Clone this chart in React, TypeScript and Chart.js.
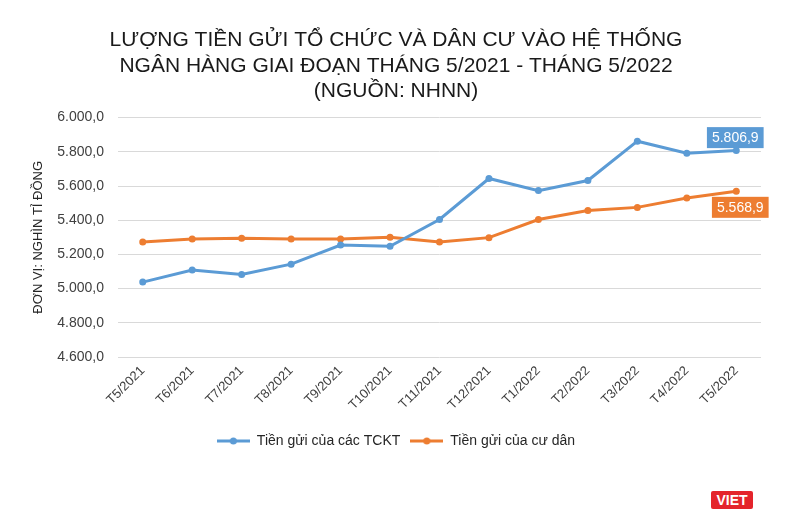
import React, { useEffect, useRef } from 'react';
import { Chart, registerables } from 'chart.js';

Chart.register(...registerables);

const months = [
  'T5/2021', 'T6/2021', 'T7/2021', 'T8/2021', 'T9/2021', 'T10/2021', 'T11/2021',
  'T12/2021', 'T1/2022', 'T2/2022', 'T3/2022', 'T4/2022', 'T5/2022',
];
// Deposits of economic organisations (TCKT), thousand billion dong
const tcktValues = [5038, 5109, 5082, 5143, 5255, 5247, 5404, 5644, 5573, 5632, 5862, 5792, 5806.9];
// Deposits of residents
const danCuValues = [5272, 5290, 5294, 5290, 5290, 5300, 5272, 5298, 5404, 5457, 5475, 5530, 5568.9];
const seriesNames = ['Tiền gửi của các TCKT', 'Tiền gửi của cư dân'];
const titleLines = [
  'LƯỢNG TIỀN GỬI TỔ CHỨC VÀ DÂN CƯ VÀO HỆ THỐNG',
  'NGÂN HÀNG GIAI ĐOẠN THÁNG 5/2021 - THÁNG 5/2022',
  '(NGUỒN: NHNN)',
];

const BLUE = '#5b9bd5';
const ORANGE = '#ed7d31';
const FONT = "'Liberation Sans', Arial, sans-serif";

// 5806.9 -> "5.806,9"
function fmt(v: number) {
  const [i, d] = v.toFixed(1).split('.');
  return i.replace(/\B(?=(\d{3})+(?!\d))/g, '.') + ',' + d;
}

function legendIcon(color: string) {
  const c = document.createElement('canvas');
  c.width = 33;
  c.height = 10;
  const ctx = c.getContext('2d')!;
  ctx.strokeStyle = color;
  ctx.lineWidth = 3;
  ctx.beginPath();
  ctx.moveTo(0, 5);
  ctx.lineTo(33, 5);
  ctx.stroke();
  ctx.fillStyle = color;
  ctx.beginPath();
  ctx.arc(16.5, 5, 3.5, 0, Math.PI * 2);
  ctx.fill();
  return c;
}

// boxes with the last value of each line
const lastLabels = {
  id: 'lastLabels',
  afterDatasetsDraw(chart: any) {
    const ctx = chart.ctx;
    const setups = [
      { ds: 0, color: BLUE, dx: -1, dy: -13 },
      { ds: 1, color: ORANGE, dx: 4, dy: 16 },
    ];
    ctx.save();
    ctx.font = `14px ${FONT}`;
    ctx.textAlign = 'center';
    ctx.textBaseline = 'middle';
    setups.forEach((s) => {
      const meta = chart.getDatasetMeta(s.ds);
      const pt = meta.data[meta.data.length - 1];
      const vals = chart.data.datasets[s.ds].data;
      const text = fmt(vals[vals.length - 1]);
      const w = ctx.measureText(text).width + 10;
      const h = 21;
      const cx = pt.x + s.dx;
      const cy = pt.y + s.dy;
      ctx.fillStyle = s.color;
      ctx.fillRect(cx - w / 2, cy - h / 2, w, h);
      ctx.fillStyle = '#ffffff';
      ctx.fillText(text, cx, cy + 1);
    });
    ctx.restore();
  },
};

function App() {
  const canvasRef = useRef<HTMLCanvasElement | null>(null);

  useEffect(() => {
    if (!canvasRef.current) return;
    const icons = [legendIcon(BLUE), legendIcon(ORANGE)];
    const chart = new Chart(canvasRef.current, {
      type: 'line',
      data: {
        labels: months,
        datasets: [
          {
            label: seriesNames[0],
            data: tcktValues,
            borderColor: BLUE,
            backgroundColor: BLUE,
            borderWidth: 3,
            pointRadius: 3.5,
            pointBorderWidth: 0,
          },
          {
            label: seriesNames[1],
            data: danCuValues,
            borderColor: ORANGE,
            backgroundColor: ORANGE,
            borderWidth: 3,
            pointRadius: 3.5,
            pointBorderWidth: 0,
          },
        ],
      },
      options: {
        animation: false,
        responsive: false,
        layout: { padding: { left: 31, right: 49, bottom: 64, top: 0 } },
        plugins: {
          title: {
            display: true,
            text: titleLines,
            color: '#1a1a1a',
            font: { family: FONT, size: 21, weight: 'normal', lineHeight: 1.2 },
            padding: { top: 28, bottom: 14 },
          },
          legend: {
            position: 'bottom',
            labels: {
              color: '#262626',
              font: { family: FONT, size: 14 },
              usePointStyle: true,
              pointStyleWidth: 33,
              padding: 10,
              generateLabels: (c: any) =>
                Chart.defaults.plugins.legend.labels
                  .generateLabels(c)
                  .map((l: any, i: number) => ({ ...l, pointStyle: icons[i] })),
            },
          },
          tooltip: { enabled: false },
        },
        scales: {
          x: {
            offset: true,
            grid: { display: false },
            border: { display: false },
            ticks: {
              color: '#404040',
              font: { family: FONT, size: 13 },
              minRotation: 45,
              maxRotation: 45,
              padding: -2,
            },
            afterFit: (s: any) => {
              s.height = 67;
            },
          },
          y: {
            min: 4600,
            max: 6000,
            grid: { color: '#d9d9d9', lineWidth: 1, drawTicks: false },
            border: { display: false },
            ticks: {
              stepSize: 200,
              color: '#404040',
              font: { family: FONT, size: 14 },
              padding: 14,
              callback: (v: any) => fmt(Number(v)),
            },
            title: {
              display: true,
              text: 'ĐƠN VỊ: NGHÌN TỈ ĐỒNG',
              color: '#262626',
              font: { family: FONT, size: 13 },
              padding: 0,
            },
            afterFit: (s: any) => {
              s.width = 87;
            },
          },
        },
      },
      plugins: [lastLabels],
    });
    return () => {
      chart.destroy();
    };
  }, []);

  return (
    <div style={{ position: 'absolute', left: 0, top: 0, width: 810, height: 522, background: '#fff' }}>
      <canvas ref={canvasRef} width={810} height={522}></canvas>
      {/* VIET watermark */}
      <div
        style={{
          position: 'absolute',
          left: 711,
          top: 491,
          width: 42,
          height: 18,
          background: '#e4242b',
          color: '#fff',
          fontFamily: FONT,
          fontWeight: 'bold',
          fontSize: 14,
          lineHeight: '18px',
          textAlign: 'center',
          borderRadius: 2,
        }}
      >
        VIET
      </div>
    </div>
  );
}

export default App;
